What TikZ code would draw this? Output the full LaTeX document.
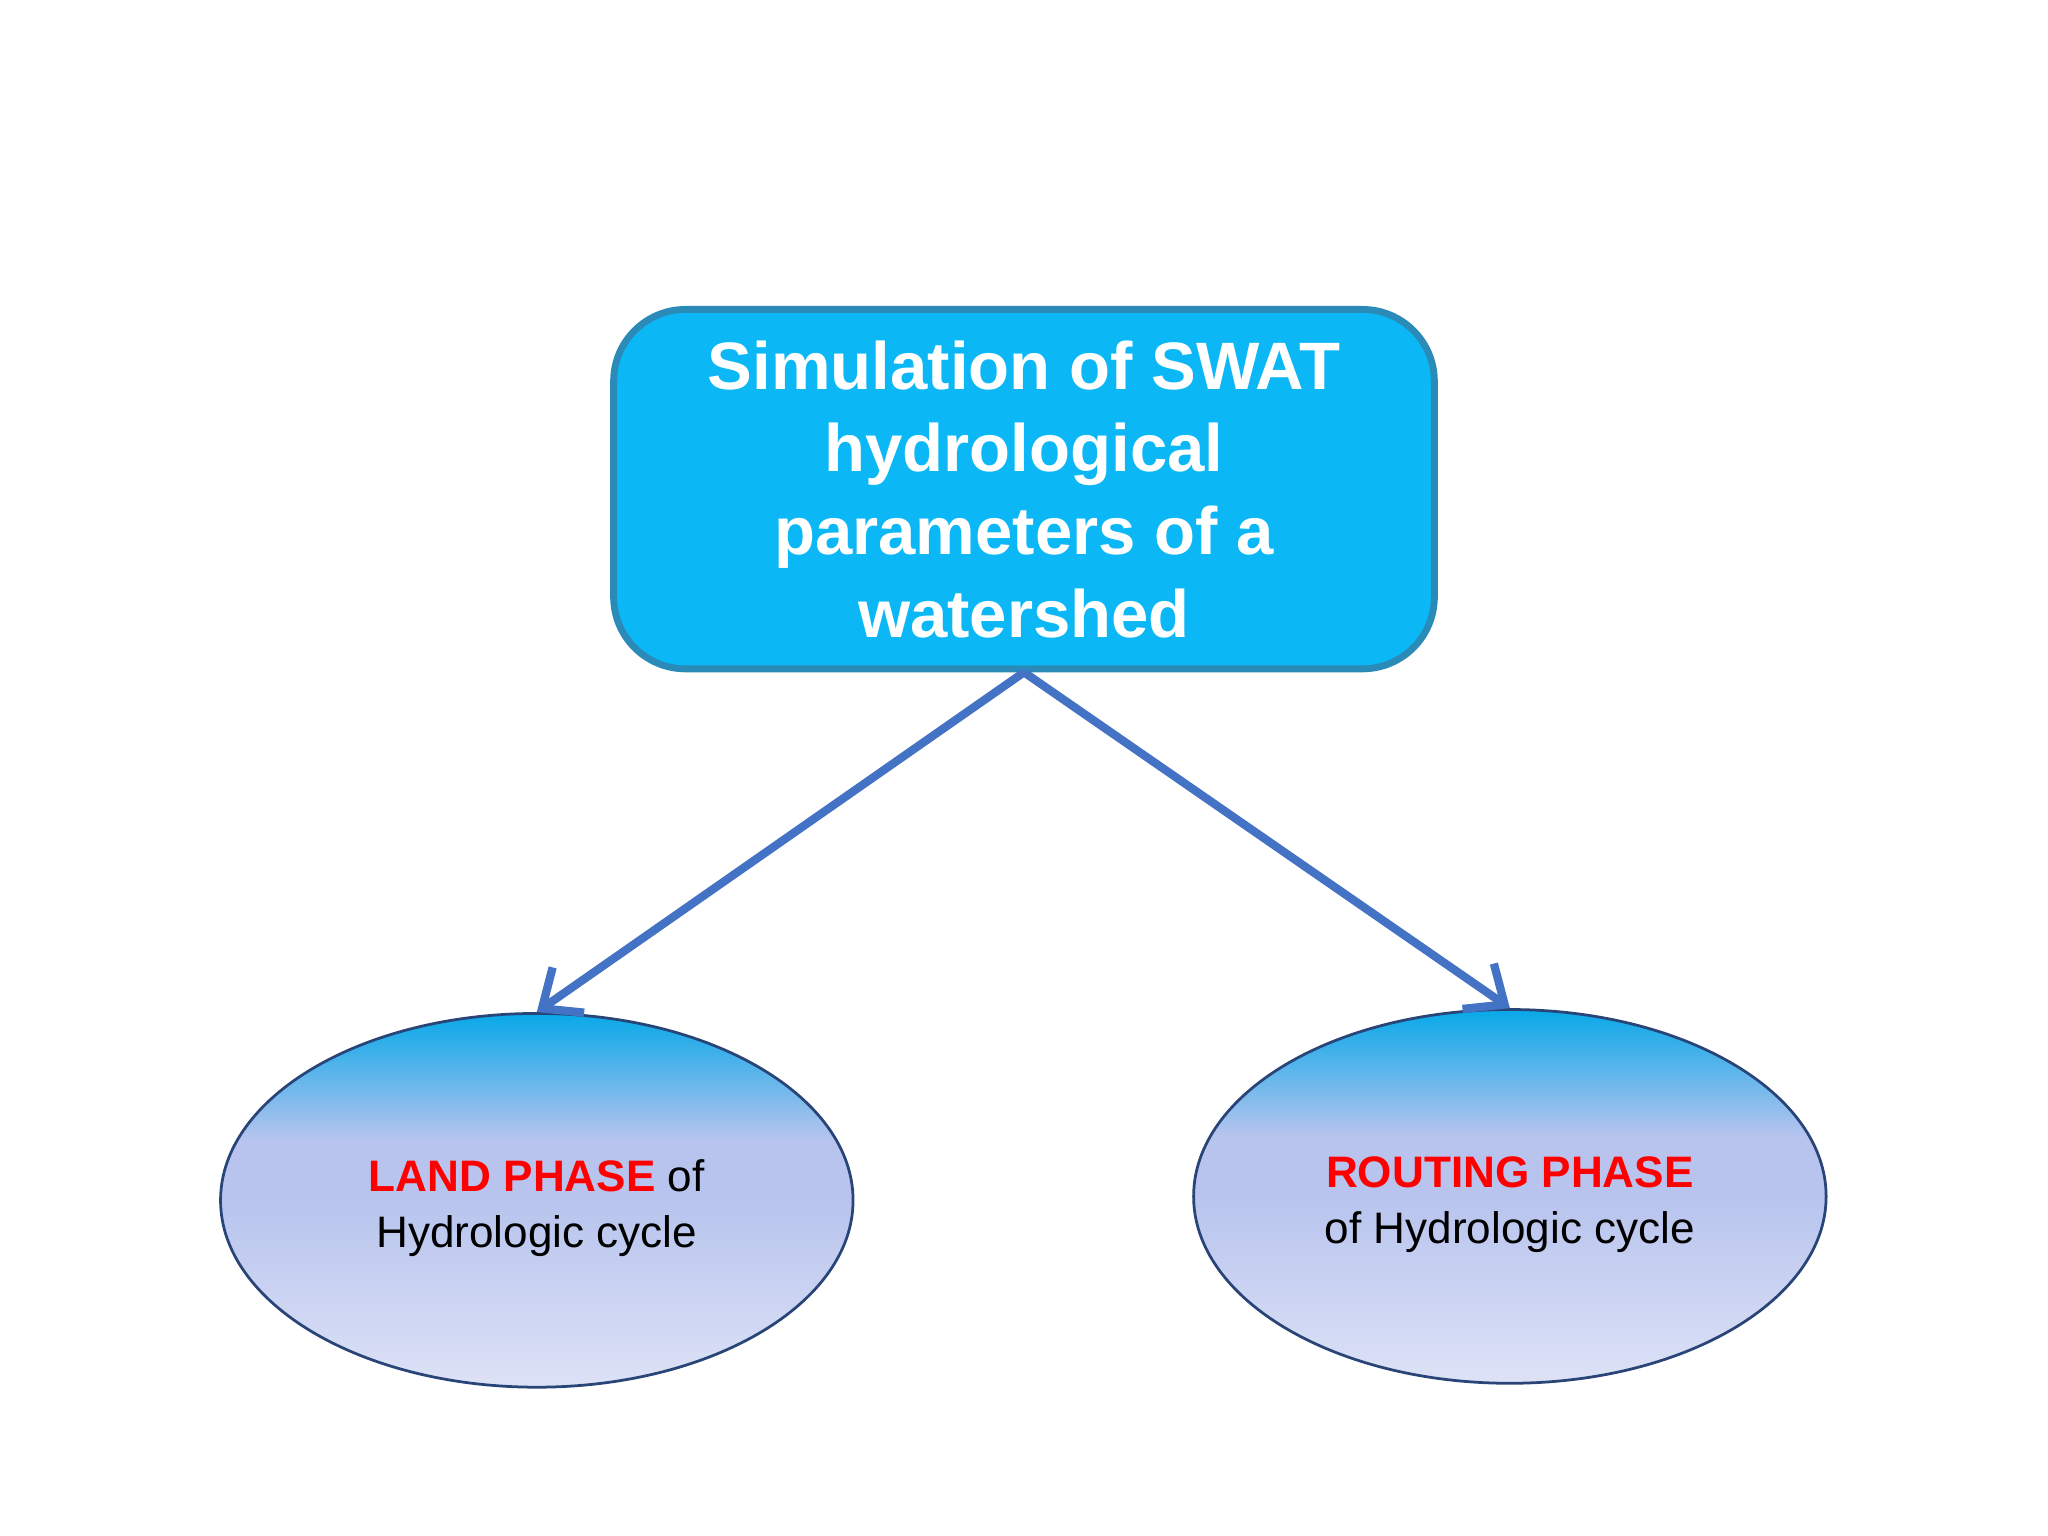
\documentclass[tikz,border=0pt]{standalone}
\usepackage{fontspec}
\setmainfont{Liberation Sans}
\usetikzlibrary{arrows.meta,shadings,shapes.geometric}
\definecolor{boxfill}{HTML}{0BB8F5}
\definecolor{boxedge}{HTML}{2A8AB8}
\definecolor{arr}{HTML}{4472C4}
\definecolor{etop}{HTML}{08A8E8}
\definecolor{emid}{HTML}{B8C4EE}
\definecolor{ebot}{HTML}{DDE2F6}
\definecolor{phase}{HTML}{FF0000}
\pgfdeclareverticalshading{ellshade}{100bp}{color(0bp)=(ebot); color(25bp)=(ebot); color(50bp)=(emid); color(58bp)=(emid); color(75bp)=(etop); color(100bp)=(etop)}
\tikzset{
  mainbox/.style={draw=boxedge, line width=1.5pt, fill=boxfill, rounded corners=0.55cm, minimum width=6.28cm, minimum height=2.75cm, align=center, text=white, font=\fontsize{14.6}{18}\selectfont\bfseries},
  phaseell/.style={ellipse, draw=arr!60!black, line width=0.6pt, shading=ellshade, minimum width=4.84cm, minimum height=2.86cm, align=center, font=\fontsize{9.6}{12.2}\selectfont},
  conn/.style={draw=arr, line width=1.8pt, -{Straight Barb[length=7pt,width=12pt,line width=1.8pt]}}
}
\begin{document}
\begin{tikzpicture}[x=0.01cm,y=-0.01cm]
\useasboundingbox (0,0) rectangle (1568,1176);
\node[mainbox] (top) at (784,374.5) {Simulation of SWAT\\hydrological\\parameters of a\\watershed};
\node[phaseell] (land) at (411,919) {\rule{0pt}{10.3pt}{\bfseries\color{phase}LAND PHASE} of\\Hydrologic cycle};
\node[phaseell] (route) at (1156,916) {\rule{0pt}{10.3pt}{\bfseries\color{phase}ROUTING PHASE}\\of Hydrologic cycle};
\draw[conn] (top.south) -- (land.north);
\draw[conn] (top.south) -- (route.north);
\end{tikzpicture}
\end{document}
